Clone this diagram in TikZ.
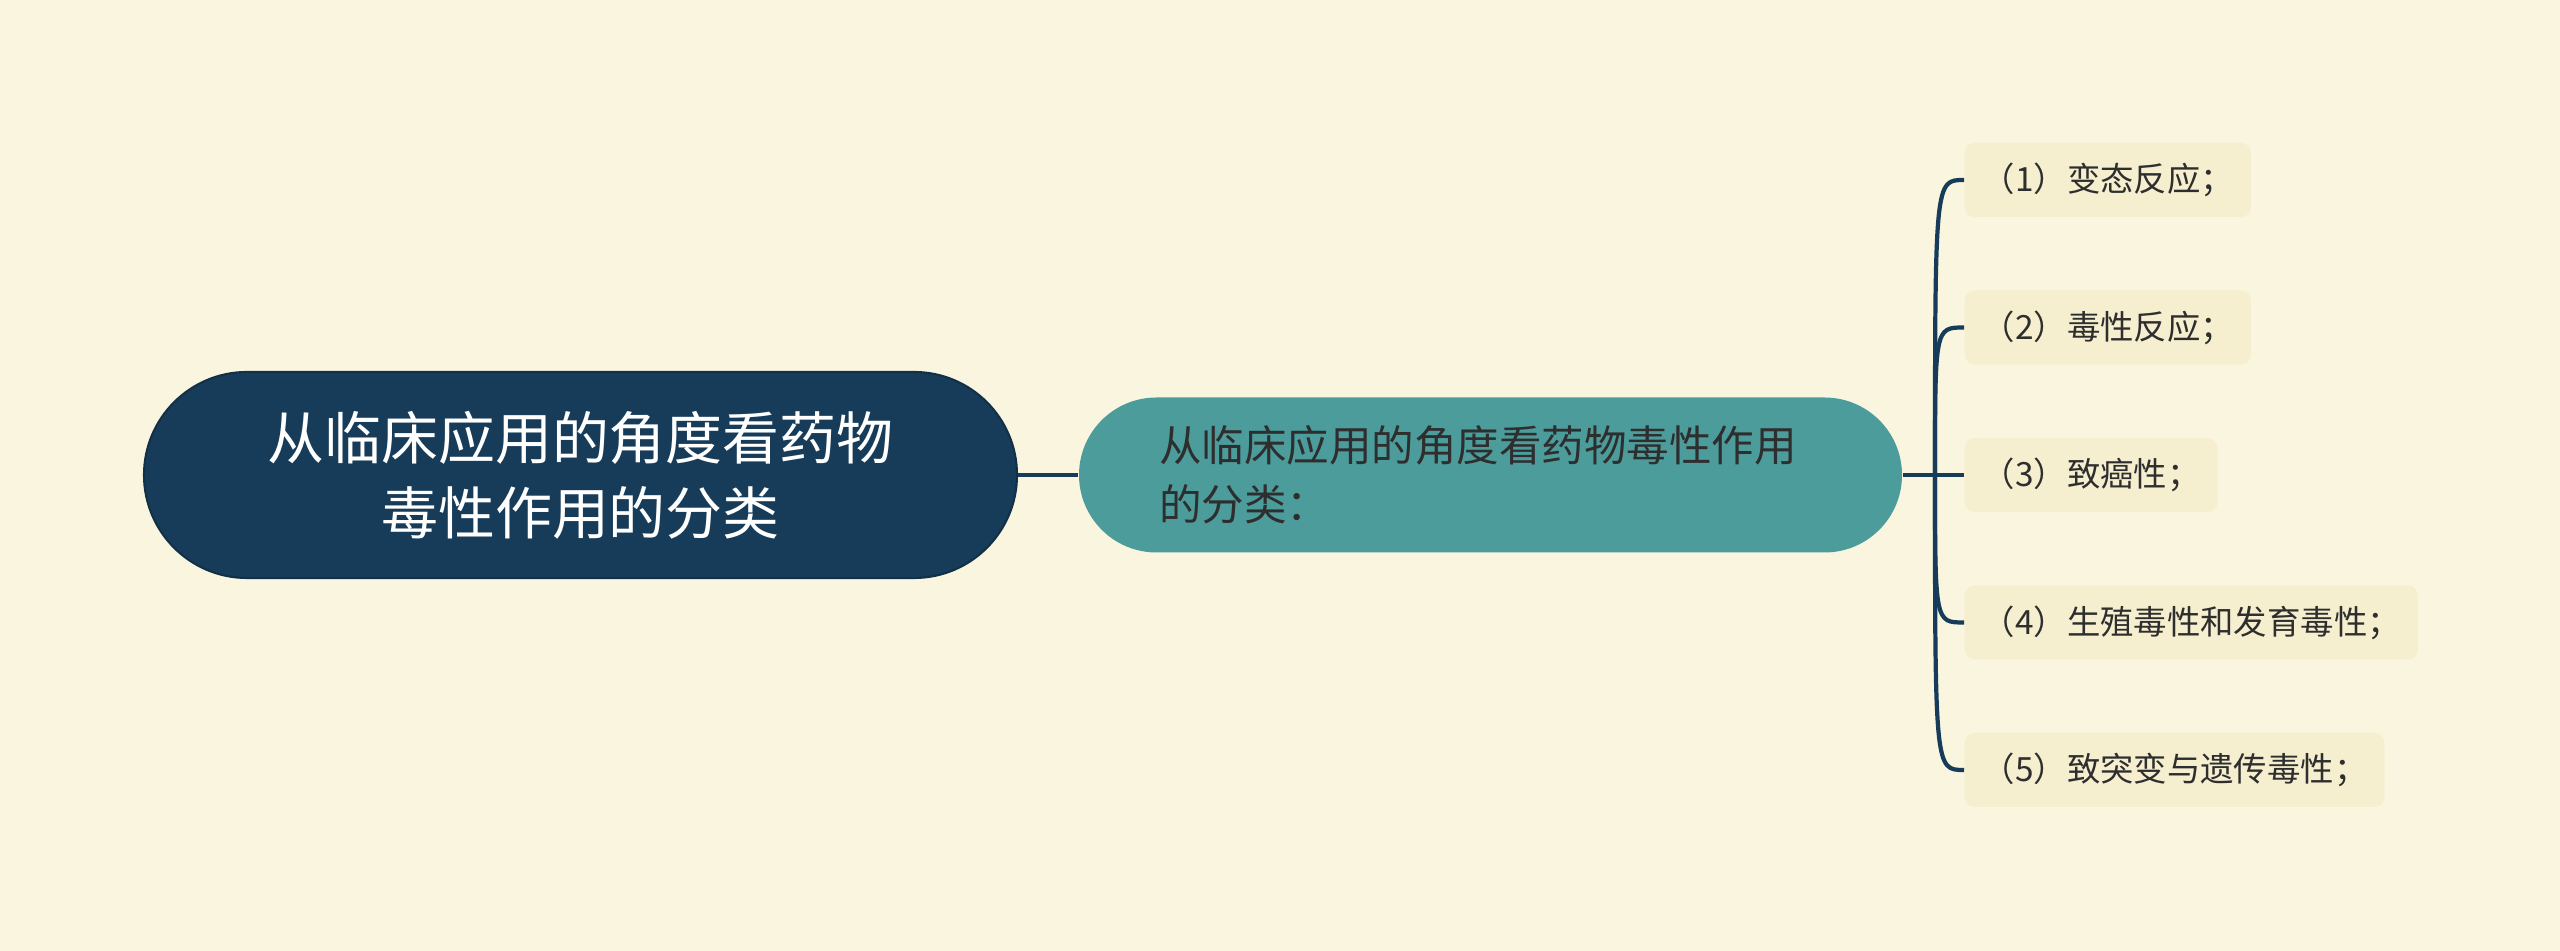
\documentclass[tikz,border=0pt]{standalone}
\usepackage{fontspec}
\setmainfont{Noto Sans CJK SC}
\usepackage{tikz}

\definecolor{bgcream}{HTML}{FAF5DF}
\definecolor{leafcream}{HTML}{F5EFCF}
\definecolor{navy}{HTML}{173C5A}
\definecolor{teal}{HTML}{4C9C9C}
\definecolor{ink}{HTML}{2E2E2E}

\tikzset{
  rootbox/.style={fill=navy, draw=navy!80!black, line width=0.6pt, rounded corners=1.03cm,
    minimum width=8.73cm, minimum height=2.06cm, text width=6.5cm, align=center,
    text=white, font=\fontsize{16.2pt}{21.3pt}\selectfont},
  midbox/.style={fill=teal, rounded corners=0.775cm, minimum height=1.55cm,
    text width=6.63cm, inner xsep=0.8cm, align=left,
    text=ink, font=\fontsize{12.1pt}{16.7pt}\selectfont},
  leafbox/.style={fill=leafcream, rounded corners=0.1cm, anchor=west,
    minimum height=0.74cm, inner xsep=0.17cm,
    text=ink, font=\fontsize{9.5pt}{11pt}\selectfont},
  link/.style={draw=navy, line width=1.2pt}
}

\begin{document}
\begin{tikzpicture}
  \fill[bgcream] (0,0) rectangle (25.6,-9.51);

  \node[rootbox] (root) at (5.805,-4.75) {从临床应用的角度看药物\\毒性作用的分类};
  \node[midbox] (mid) at (14.905,-4.75) {从临床应用的角度看药物毒性作用\\的分类：};
  \coordinate (trunk) at (19.35,-4.75);

  \node[leafbox] (l1) at (19.64,-1.80) {（1）变态反应；};
  \node[leafbox] (l2) at (19.64,-3.275) {（2）毒性反应；};
  \node[leafbox] (l3) at (19.64,-4.75) {（3）致癌性；};
  \node[leafbox] (l4) at (19.64,-6.225) {（4）生殖毒性和发育毒性；};
  \node[leafbox] (l5) at (19.64,-7.70) {（5）致突变与遗传毒性；};

  \draw[link] (root) -- (mid);
  \draw[link] (mid) -- (trunk) -- (l3);
  \draw[link] (trunk) .. controls (trunk |- l1.west) .. (l1.west);
  \draw[link] (trunk) .. controls (trunk |- l2.west) .. (l2.west);
  \draw[link] (trunk) .. controls (trunk |- l4.west) .. (l4.west);
  \draw[link] (trunk) .. controls (trunk |- l5.west) .. (l5.west);
\end{tikzpicture}
\end{document}
